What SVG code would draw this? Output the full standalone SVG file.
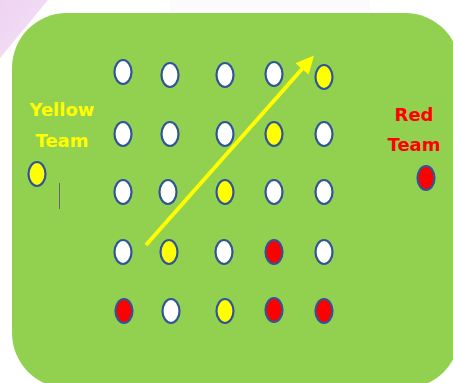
<svg xmlns="http://www.w3.org/2000/svg" width="453" height="383" viewBox="0 0 453 383">
  <defs>
    <style>
      .dot { stroke: #2f5597; stroke-width: 2.2; }
      .w { fill: #ffffff; }
      .y { fill: #ffff00; }
      .r { fill: #ff0000; }
      .lbl { font-family: "DejaVu Sans", "Verdana", sans-serif; font-weight: bold; font-size: 18px; text-anchor: middle; }
    </style>
    <marker id="ah" markerWidth="4.5" markerHeight="4.4" refX="3" refY="2.2" orient="auto" markerUnits="strokeWidth">
      <path d="M0,0 L4.5,2.2 L0,4.4 Z" fill="#ffff00"/>
    </marker>
    <linearGradient id="pg" x1="0" y1="0" x2="1" y2="1">
      <stop offset="0" stop-color="#eed4f2"/>
      <stop offset="1" stop-color="#f3e0f5"/>
    </linearGradient>
  </defs>
  <rect width="453" height="383" fill="#ffffff"/>
  <polygon points="0,0 48,0 0,58" fill="url(#pg)"/>
  <rect x="170" y="0" width="200" height="12" fill="#fdfafd"/>
  <rect id="field" x="12" y="13" width="448" height="375" rx="55" ry="55" fill="#92d050"/>

  <g id="label-yellow">
    <text class="lbl" x="62" y="116" fill="#ffff00">Yellow</text>
    <text class="lbl" x="62" y="147" fill="#ffff00">Team</text>
  </g>
  <g id="label-red">
    <text class="lbl" x="414" y="121" fill="#ff0000">Red</text>
    <text class="lbl" x="414" y="151" fill="#ff0000">Team</text>
  </g>

  <g id="yellow-player"><ellipse class="dot y" cx="37" cy="174" rx="8.5" ry="12"/></g>
  <g id="red-player"><ellipse class="dot r" cx="426" cy="178" rx="8.5" ry="12"/></g>
  <line x1="59.5" y1="183" x2="59.5" y2="209" stroke="#6a6a6a" stroke-width="1"/>

  <g id="row1">
    <g id="d11"><ellipse class="dot w" cx="123" cy="72" rx="8.5" ry="12"/></g>
    <g id="d12"><ellipse class="dot w" cx="170" cy="75" rx="8.5" ry="12"/></g>
    <g id="d13"><ellipse class="dot w" cx="225" cy="75" rx="8.5" ry="12"/></g>
    <g id="d14"><ellipse class="dot w" cx="274" cy="74" rx="8.5" ry="12"/></g>
    <g id="d15"><ellipse class="dot y" cx="324" cy="77" rx="8.5" ry="12"/></g>
  </g>
  <g id="row2">
    <g id="d21"><ellipse class="dot w" cx="123" cy="134" rx="8.5" ry="12"/></g>
    <g id="d22"><ellipse class="dot w" cx="170" cy="134" rx="8.5" ry="12"/></g>
    <g id="d23"><ellipse class="dot w" cx="225" cy="134" rx="8.5" ry="12"/></g>
    <g id="d24"><ellipse class="dot y" cx="274" cy="134" rx="8.5" ry="12"/></g>
    <g id="d25"><ellipse class="dot w" cx="324" cy="134" rx="8.5" ry="12"/></g>
  </g>
  <g id="row3">
    <g id="d31"><ellipse class="dot w" cx="123" cy="192" rx="8.5" ry="12"/></g>
    <g id="d32"><ellipse class="dot w" cx="168" cy="192" rx="8.5" ry="12"/></g>
    <g id="d33"><ellipse class="dot y" cx="225" cy="192" rx="8.5" ry="12"/></g>
    <g id="d34"><ellipse class="dot w" cx="274" cy="192" rx="8.5" ry="12"/></g>
    <g id="d35"><ellipse class="dot w" cx="324" cy="192" rx="8.5" ry="12"/></g>
  </g>
  <g id="row4">
    <g id="d41"><ellipse class="dot w" cx="123" cy="252" rx="8.5" ry="12"/></g>
    <g id="d42"><ellipse class="dot y" cx="169" cy="252" rx="8.5" ry="12"/></g>
    <g id="d43"><ellipse class="dot w" cx="224" cy="252" rx="8.5" ry="12"/></g>
    <g id="d44"><ellipse class="dot r" cx="274" cy="252" rx="8.5" ry="12"/></g>
    <g id="d45"><ellipse class="dot w" cx="324" cy="252" rx="8.5" ry="12"/></g>
  </g>
  <g id="row5">
    <g id="d51"><ellipse class="dot r" cx="124" cy="311" rx="8.5" ry="12"/></g>
    <g id="d52"><ellipse class="dot w" cx="171" cy="311" rx="8.5" ry="12"/></g>
    <g id="d53"><ellipse class="dot y" cx="225" cy="311" rx="8.5" ry="12"/></g>
    <g id="d54"><ellipse class="dot r" cx="274" cy="310" rx="8.5" ry="12"/></g>
    <g id="d55"><ellipse class="dot r" cx="324" cy="311" rx="8.5" ry="12"/></g>
  </g>

  <g id="connectors">
    <line x1="146" y1="245" x2="310" y2="60" stroke="#ffff00" stroke-width="4" marker-end="url(#ah)"/>
  </g>
</svg>
